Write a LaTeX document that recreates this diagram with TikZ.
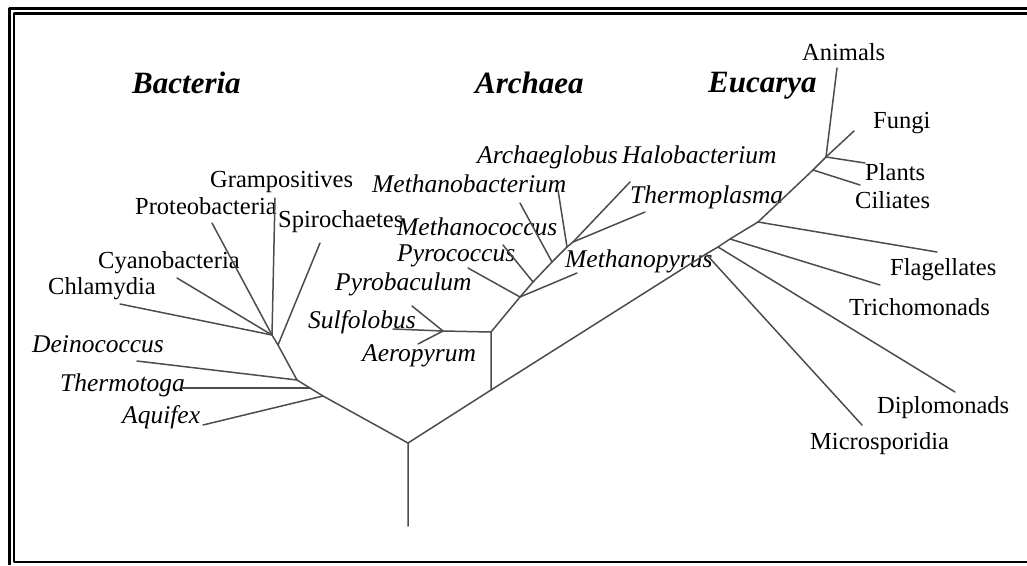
\documentclass[tikz,border=0pt]{standalone}
\usepackage{fontspec}
\setmainfont{Liberation Serif}

\begin{document}
\begin{tikzpicture}[x=1pt,y=-1pt,line cap=round,line join=round,
  branch/.style={draw=black!70,line width=1.5pt},
  taxon/.style={inner sep=0pt,anchor=base west,font=\fontsize{24.5}{28}\selectfont},
  genus/.style={taxon,font=\fontsize{25.5}{28}\selectfont\itshape},
  kingdom/.style={taxon,font=\fontsize{31}{34}\selectfont\bfseries\itshape}]

  \useasboundingbox (0,0) rectangle (1027,565);

  % double frame, cut on the right
  \draw[line width=3pt,line cap=butt] (9.5,565) -- (9.5,8.5) -- (1027,8.5);
  \draw[line width=2.5pt,line cap=butt] (1027,13.5) -- (14,13.5) -- (14,562) -- (1027,562);

  % domains
  \node[kingdom] (bac) at (132,93) {Bacteria};
  \node[kingdom] (arc) at (475,93) {Archaea};
  \node[kingdom] (euc) at (708,92) {Eucarya};

  % bacteria
  \node[taxon] (gram)  at (210,187) {Grampositives};
  \node[taxon] (prot)  at (135,214) {Proteobacteria};
  \node[taxon] (spir)  at (278,227) {Spirochaetes};
  \node[taxon] (cyan)  at (98,268)  {Cyanobacteria};
  \node[taxon] (chla)  at (48,294)  {Chlamydia};
  \node[genus] (dein)  at (32,352)  {Deinococcus};
  \node[genus] (therm) at (60,391)  {Thermotoga};
  \node[genus] (aqui)  at (122,423) {Aquifex};

  % archaea
  \node[genus] (arch)  at (477,163) {Archaeglobus};
  \node[genus] (halo)  at (622,163) {Halobacterium};
  \node[genus] (mbac)  at (372,192) {Methanobacterium};
  \node[genus] (tpla)  at (630,203) {Thermoplasma};
  \node[genus] (mcoc)  at (397,235) {Methanococcus};
  \node[genus] (pcoc)  at (397,261) {Pyrococcus};
  \node[genus] (pbac)  at (335,290) {Pyrobaculum};
  \node[genus] (sulf)  at (308,328) {Sulfolobus};
  \node[genus] (aero)  at (362,361) {Aeropyrum};
  \node[genus] (mpyr)  at (565,267) {Methanopyrus};

  % eucarya
  \node[taxon] (anim)  at (802,60)  {Animals};
  \node[taxon] (fung)  at (873,128) {Fungi};
  \node[taxon] (plan)  at (865,180) {Plants};
  \node[taxon] (cili)  at (855,208) {Ciliates};
  \node[taxon] (flag)  at (890,275) {Flagellates};
  \node[taxon] (tric)  at (849,315) {Trichomonads};
  \node[taxon] (dipl)  at (877,413) {Diplomonads};
  \node[taxon] (micr)  at (810,449) {Microsporidia};

  % junctions
  \coordinate (base) at (408,526);
  \coordinate (luca) at (408,443);
  \coordinate (b1) at (323,396);
  \coordinate (b2) at (310,388);
  \coordinate (b3) at (297,380);
  \coordinate (b4) at (278,345);
  \coordinate (b5) at (272,335);
  \coordinate (a1) at (491,390);
  \coordinate (a2) at (491,332);
  \coordinate (a3) at (443,331);
  \coordinate (a4) at (520,297);
  \coordinate (a5) at (533,282);
  \coordinate (a6) at (552,262);
  \coordinate (a7) at (567,247);
  \coordinate (a8) at (573,242);
  \coordinate (e1) at (706,254);
  \coordinate (e2) at (718,247);
  \coordinate (e3) at (730,239);
  \coordinate (e4) at (758,222);
  \coordinate (e5) at (813,170);
  \coordinate (e6) at (826,157);

  % leaf ends
  \coordinate (lgram) at (275,198);
  \coordinate (lprot) at (212,223);
  \coordinate (lspir) at (320,243);
  \coordinate (lcyan) at (177,278);
  \coordinate (lchla) at (120,304);
  \coordinate (ldein) at (137,361);
  \coordinate (ltherm) at (182,388);
  \coordinate (laqui) at (203,425);
  \coordinate (lpbac) at (412,306);
  \coordinate (lsulf) at (393,329);
  \coordinate (laero) at (418,344);
  \coordinate (lpcoc) at (468,268);
  \coordinate (lmpyr) at (577,273);
  \coordinate (lmcoc) at (503,245);
  \coordinate (lmbac) at (520,203);
  \coordinate (larch) at (558,190);
  \coordinate (lhalo) at (630,182);
  \coordinate (ltpla) at (645,212);
  \coordinate (lanim) at (837,68);
  \coordinate (lfung) at (854,131);
  \coordinate (lplan) at (865,163);
  \coordinate (lcili) at (860,185);
  \coordinate (lflag) at (937,252);
  \coordinate (ltric) at (880,285);
  \coordinate (ldipl) at (955,392);
  \coordinate (lmicr) at (862,425);

  % trunks
  \draw[branch] (base) -- (luca) -- (b1) -- (b2) -- (b3) -- (b4) -- (b5) -- (lgram);
  \draw[branch] (luca) -- (a1) -- (e1) -- (e2) -- (e3) -- (e4) -- (e5) -- (e6) -- (lanim);
  \draw[branch] (a1) -- (a2) -- (a4) -- (a5) -- (a6) -- (a7) -- (a8) -- (lhalo);
  \draw[branch] (a2) -- (a3) -- (lpbac);

  \path[branch]
    (b5) edge (lprot)
         edge (lcyan)
         edge (lchla)
    (b4) edge (lspir)
    (b3) edge (ldein)
    (b2) edge (ltherm)
    (b1) edge (laqui)
    (a3) edge (lsulf)
         edge (laero)
    (a4) edge (lpcoc)
         edge (lmpyr)
    (a5) edge (lmcoc)
    (a6) edge (lmbac)
    (a7) edge (larch)
    (a8) edge (ltpla)
    (e6) edge (lfung)
         edge (lplan)
    (e5) edge (lcili)
    (e4) edge (lflag)
    (e3) edge (ltric)
    (e2) edge (ldipl)
    (e1) edge (lmicr);
\end{tikzpicture}
\end{document}
